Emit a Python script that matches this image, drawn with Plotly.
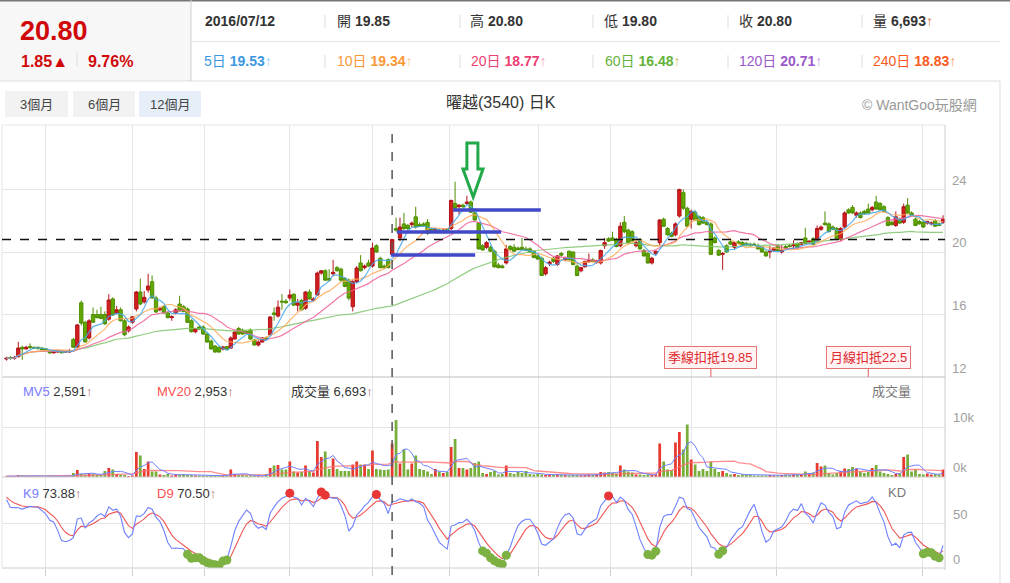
import plotly.graph_objects as go
import pandas as pd

W, H = 1010, 583
def px(x): return x / W
def py(y): return 1 - y / H

# ---------------- data ----------------
opens = [
13.15,13.25,13.20,13.30,13.90,13.80,13.95,13.90,13.90,13.85,
13.80,13.60,13.55,13.60,13.65,13.60,13.60,14.40,13.92,16.75,
15.50,14.50,16.00,16.00,16.00,16.00,15.70,17.00,16.10,16.30,
15.60,14.95,15.50,16.35,17.44,16.80,17.57,18.10,17.06,16.30,
16.50,16.10,15.80,16.10,16.67,16.50,16.35,15.60,14.90,15.20,
15.20,14.75,14.30,13.98,13.90,13.80,13.95,13.85,14.43,15.10,
15.00,14.90,15.00,14.37,14.05,14.24,14.50,14.70,16.10,15.90,
16.85,16.85,17.06,17.30,16.60,16.90,16.40,17.44,16.90,17.25,
18.65,18.80,18.30,18.60,19.00,18.90,18.30,18.20,16.50,18.10,
19.30,19.00,19.30,19.10,20.40,19.60,19.10,19.50,19.85,21.50,
20.90,21.80,21.70,21.75,22.25,21.75,21.80,21.90,21.45,21.40,
21.40,21.30,21.45,21.50,23.10,22.90,23.00,23.10,23.20,22.50,
21.85,20.40,20.30,20.30,20.05,19.17,19.10,19.30,20.35,20.30,
20.25,20.30,20.20,20.20,20.05,19.75,19.60,18.60,19.25,19.60,
19.20,19.90,19.50,20.05,20.00,19.10,18.80,19.05,19.40,19.50,
19.35,19.30,20.40,20.85,20.90,20.80,20.40,21.90,21.40,21.30,
20.40,20.80,20.10,19.90,19.30,19.90,20.60,22.10,21.50,21.20,
21.10,22.30,23.80,22.80,22.10,22.55,22.25,22.20,21.90,21.80,
20.90,20.10,19.85,20.40,20.65,20.30,20.65,20.60,20.55,20.50,
20.50,20.40,20.30,20.00,20.00,20.10,20.40,20.00,20.35,20.40,
20.40,20.55,20.50,20.90,20.60,20.85,20.75,21.45,21.85,21.80,
21.60,21.50,20.80,21.60,22.70,22.85,22.35,22.50,22.60,22.75,
22.70,23.20,23.10,22.90,22.20,21.90,21.70,22.10,21.90,23.00,
22.50,22.10,21.95,21.90,21.85,21.80,22.00,21.80,21.90]
highs = [
13.30,13.35,13.35,14.25,14.00,14.00,14.15,13.95,13.95,13.90,
13.85,13.65,13.65,13.70,13.70,13.65,13.80,14.50,15.40,16.90,
15.60,15.70,16.45,16.30,16.50,16.20,17.30,17.10,16.55,16.45,
15.70,15.30,15.90,17.50,18.30,17.50,18.60,18.50,17.20,16.50,
16.60,16.20,15.95,16.40,17.20,16.60,16.45,15.70,15.15,15.30,
15.30,14.85,14.40,14.05,13.95,14.00,14.00,14.60,14.95,15.20,
15.10,15.00,15.10,14.45,14.35,14.55,14.60,15.90,16.45,16.90,
17.30,17.00,17.60,17.35,17.00,17.00,17.50,17.60,17.10,18.75,
18.85,18.90,18.90,19.50,19.10,19.00,18.40,18.30,18.20,19.10,
19.80,19.20,19.50,20.60,20.50,19.70,19.20,19.60,20.80,22.20,
22.20,22.50,21.80,21.95,22.90,21.90,21.90,22.10,21.55,21.55,
21.50,21.50,21.50,23.35,24.50,23.05,23.10,23.60,23.30,22.60,
21.90,20.50,20.70,20.40,20.15,19.30,19.20,20.45,20.45,20.50,
20.35,20.90,20.35,20.30,20.10,19.80,19.70,19.10,19.45,19.70,
19.80,20.00,19.70,20.10,20.05,19.20,19.05,19.45,19.90,19.60,
19.50,20.15,20.90,20.95,21.30,20.90,21.90,22.30,21.50,21.40,
20.70,20.90,20.20,20.00,19.70,20.10,22.10,22.20,21.60,21.30,
21.90,24.05,24.00,22.90,22.70,22.65,22.35,22.30,22.00,21.90,
21.00,20.20,20.00,20.50,20.75,20.70,20.75,20.70,20.65,20.60,
20.60,20.55,20.40,20.10,20.40,20.30,20.50,20.45,20.45,20.50,
20.75,20.60,20.65,21.55,20.75,20.95,21.70,21.70,22.60,21.90,
21.70,21.60,21.60,22.60,22.80,23.00,22.60,22.60,22.70,23.10,
22.95,23.60,23.20,23.00,22.30,22.00,22.60,22.20,23.10,23.45,
22.60,22.20,22.05,22.00,22.00,21.95,22.10,21.90,22.35]
lows = [
13.05,13.10,13.10,13.25,13.10,13.75,13.80,13.80,13.75,13.70,
13.65,13.50,13.50,13.55,13.50,13.55,13.55,13.90,13.85,15.30,
14.20,14.40,15.50,15.75,15.70,15.35,15.60,15.90,16.00,15.55,
14.60,14.85,15.40,16.20,16.60,16.70,17.40,17.00,16.10,16.20,
16.05,15.75,15.60,16.00,16.20,16.15,15.45,14.85,14.80,15.00,
14.70,14.20,13.75,13.55,13.55,13.70,13.70,13.80,14.40,14.70,
14.70,14.75,14.40,14.00,13.95,14.20,14.35,14.65,15.60,15.80,
16.30,16.70,16.90,16.55,16.20,16.25,16.30,16.95,16.80,17.20,
18.55,18.15,18.10,18.45,18.75,18.10,17.75,16.90,16.20,18.00,
18.75,18.90,19.05,19.00,19.95,18.95,18.90,18.95,19.80,21.30,
20.70,21.40,21.40,21.60,21.50,21.60,21.60,21.10,21.30,21.30,
21.25,21.20,21.30,21.40,22.70,22.40,22.80,23.00,22.50,22.00,
20.15,20.10,20.20,20.00,19.00,18.95,18.95,19.20,20.10,20.00,
20.10,20.10,20.05,19.95,19.60,19.50,18.45,18.50,19.10,19.30,
19.10,19.70,19.40,19.45,19.15,18.45,18.70,19.00,19.30,19.35,
19.25,19.20,20.20,20.65,20.70,20.30,20.30,21.20,20.55,20.65,
20.30,20.15,19.70,19.25,19.20,19.80,20.40,21.60,21.05,20.95,
21.00,22.20,22.70,21.60,21.50,22.00,21.70,21.80,21.70,19.80,
20.55,19.75,18.85,19.95,20.45,20.20,20.50,20.35,20.40,20.35,
20.40,20.15,19.95,19.70,19.60,20.00,20.05,19.90,20.20,20.30,
20.20,20.20,20.40,20.50,20.50,20.45,20.60,21.35,21.70,21.25,
21.40,20.75,20.70,21.50,22.45,22.45,22.20,22.15,22.40,22.45,
22.60,22.70,22.65,22.55,21.65,21.70,21.60,21.80,21.80,22.45,
22.30,21.65,21.75,21.55,21.75,21.70,21.60,21.65,21.80]
closes = [
13.20,13.20,13.25,13.85,13.80,13.90,13.90,13.85,13.85,13.75,
13.70,13.55,13.60,13.65,13.55,13.62,13.65,13.90,15.33,15.45,
14.25,15.60,15.50,15.80,15.75,15.40,16.93,15.97,16.30,15.60,
14.70,15.20,15.85,17.44,16.67,17.10,17.82,17.06,16.16,16.40,
16.10,15.80,15.85,16.30,16.22,16.20,15.50,14.90,15.10,15.07,
14.75,14.24,13.80,13.60,13.60,13.92,13.75,14.50,14.88,14.75,
14.75,14.80,14.43,14.05,14.24,14.50,14.40,15.84,16.00,16.47,
16.80,16.75,17.25,16.60,16.74,16.30,17.44,17.00,17.00,18.65,
18.80,18.20,18.20,18.70,18.80,18.20,17.80,17.05,18.10,18.97,
18.80,19.10,19.10,20.25,20.00,19.00,19.00,19.00,20.80,21.40,
21.60,21.50,21.50,21.85,21.60,21.65,21.70,21.20,21.40,21.45,
21.30,21.40,21.35,23.30,22.80,23.00,22.90,23.20,22.55,22.05,
20.20,20.13,20.60,20.05,19.05,19.00,19.00,20.20,20.15,20.05,
20.15,20.15,20.10,20.00,19.65,19.55,18.50,19.00,19.35,19.40,
19.75,19.80,19.60,19.50,19.20,18.50,19.00,19.40,19.45,19.40,
19.45,20.10,20.60,20.70,20.75,20.35,21.65,21.30,20.60,20.70,
20.60,20.20,19.75,19.30,19.60,20.05,22.05,21.65,21.10,21.00,
21.80,24.00,22.80,21.65,22.60,22.05,21.75,21.85,21.75,19.85,
20.60,19.80,19.90,20.00,20.50,20.60,20.55,20.40,20.45,20.40,
20.45,20.20,20.00,19.75,20.05,20.25,20.10,20.10,20.25,20.35,
20.45,20.30,20.60,20.55,20.70,20.50,21.50,21.60,21.75,21.30,
21.45,20.80,21.50,22.50,22.50,22.50,22.50,22.20,22.45,22.50,
22.85,22.75,22.70,22.60,21.70,21.75,22.25,21.85,22.90,22.50,
22.35,21.70,21.80,21.60,21.95,21.85,21.65,21.70,22.10]
volumes = [
150,200,150,400,300,200,250,150,200,150,
150,200,150,150,150,150,200,800,1400,600,
500,700,600,500,400,1200,1800,1500,600,500,
400,200,300,5000,4300,1600,3100,1100,1100,500,
400,600,300,400,500,600,400,400,300,300,
300,250,300,350,250,250,300,1500,600,400,
400,350,300,250,200,150,600,1800,2300,2400,
1500,1500,3100,1100,900,1000,2300,1100,900,7200,
4000,5100,1600,3700,1600,1200,1200,1200,2500,3100,
2500,2500,1600,5300,1600,1500,1400,1500,6693,11400,
2700,5500,1500,2700,4300,1600,1400,1100,600,1600,
1100,800,1000,6000,7600,1800,1800,1500,1800,2800,
3100,800,600,1000,1200,500,600,2300,800,600,
1000,800,1200,600,500,600,500,400,400,400,
500,400,400,350,400,400,350,400,500,400,
600,1000,900,1000,800,700,2300,1500,1100,900,
500,500,400,500,400,500,6700,3100,1500,1400,
6900,9000,5500,10500,3500,2500,1200,1600,1200,3100,
1600,1000,1200,800,500,600,400,500,400,400,
300,300,300,300,400,300,300,400,500,400,
500,500,500,1100,700,900,2800,2100,2300,800,
500,800,1200,1700,1600,2000,1700,1100,800,1000,
1800,2400,1100,800,600,400,600,800,4000,4500,
1100,1500,600,500,700,500,600,500,1500]

grid_idx = [9.8, 32.1, 50.4, 71.8, 92.9, 112.5, 135.3, 153.6, 174.0, 195.8, 232.9]
price_ticks = [12, 16, 20, 24]
vol_ticks = [0, 10000]
vol_tick_text = ["0k", "10k"]
kd_ticks = [0, 50]
K_SEED, D_SEED = 84.0, 80.0

hover_idx = 98
hover_close = 20.80
kijun_q_idx, kijun_q_txt = 179, "季線扣抵19.85"
kijun_m_idx, kijun_m_txt = 219, "月線扣抵22.5"

# hand-drawn marks on the chart
blue_lines = [(97.7, 119.1, 19.81), (99.2, 125.7, 21.28), (113.5, 135.8, 22.69)]

# ---------------- derived series ----------------
n = len(closes)
idx = list(range(n))
cs = pd.Series(closes)
ma5 = cs.rolling(5, min_periods=1).mean()
ma10 = cs.rolling(10, min_periods=1).mean()
ma20 = cs.rolling(20, min_periods=1).mean()
ma60 = cs.rolling(60, min_periods=1).mean()
vs = pd.Series(volumes)
mv5 = vs.rolling(5, min_periods=1).mean()
mv20 = vs.rolling(20, min_periods=1).mean()

Kv, Dv = [], []
k, d = K_SEED, D_SEED
for i in range(n):
    lo = min(lows[max(0, i - 8):i + 1]); hi = max(highs[max(0, i - 8):i + 1])
    rsv = (closes[i] - lo) / (hi - lo) * 100 if hi > lo else 50
    k = 2 / 3 * k + rsv / 3
    d = 2 / 3 * d + k / 3
    Kv.append(k); Dv.append(d)

RED, GREEN, GRAY = "#e8392f", "#77ad39", "#cdd4d8"
vol_colors = [RED if c > o else (GREEN if c < o else GRAY) for o, c in zip(opens, closes)]

FONT = "Liberation Sans, Arial, Noto Sans CJK TC, sans-serif"
fig = go.Figure()

# price panel
for ma, col in [(ma60, "#7cc46a"), (ma20, "#f0609a"), (ma10, "#ffaa5a"), (ma5, "#45a6ea")]:
    fig.add_trace(go.Scatter(x=idx, y=ma, mode="lines", line=dict(color=col, width=1.2),
                             opacity=0.85, hoverinfo="skip", xaxis="x", yaxis="y"))
fig.add_trace(go.Candlestick(
    x=idx, open=opens, high=highs, low=lows, close=closes, xaxis="x", yaxis="y",
    increasing=dict(line=dict(color="#b3141a", width=1), fillcolor="#d3201f"),
    decreasing=dict(line=dict(color="#4f8f00", width=1), fillcolor="#62a800"),
    whiskerwidth=0, hoverinfo="skip"))

# volume panel
fig.add_trace(go.Bar(x=idx, y=volumes, marker=dict(color=vol_colors, line=dict(width=0)),
                     xaxis="x2", yaxis="y2", hoverinfo="skip"))
fig.add_trace(go.Scatter(x=idx, y=mv20, mode="lines", line=dict(color="#ff7070", width=1.3),
                         opacity=0.8, xaxis="x2", yaxis="y2", hoverinfo="skip"))
fig.add_trace(go.Scatter(x=idx, y=mv5, mode="lines", line=dict(color="#6f80ff", width=1),
                         xaxis="x2", yaxis="y2", hoverinfo="skip"))

# KD panel
fig.add_trace(go.Scatter(x=idx, y=Dv, mode="lines", line=dict(color="#f05555", width=1.1),
                         xaxis="x3", yaxis="y3", hoverinfo="skip"))
fig.add_trace(go.Scatter(x=idx, y=Kv, mode="lines", line=dict(color="#6f80ff", width=1.1),
                         xaxis="x3", yaxis="y3", hoverinfo="skip"))
hi_i = [i for i in idx if Kv[i] > 80]
lo_i = [i for i in idx if Kv[i] < 20]
fig.add_trace(go.Scatter(x=hi_i, y=[Kv[i] for i in hi_i], mode="markers",
                         marker=dict(color="#e83535", size=9), xaxis="x3", yaxis="y3", hoverinfo="skip"))
fig.add_trace(go.Scatter(x=lo_i, y=[Kv[i] for i in lo_i], mode="markers",
                         marker=dict(color="#7db243", size=9), xaxis="x3", yaxis="y3", hoverinfo="skip"))

XR = [-1.14, 238.5]
XD = [px(2), px(945)]
axx = dict(range=XR, domain=XD, tickvals=grid_idx, showticklabels=False, showgrid=True,
           gridcolor="#e6e6e6", zeroline=False, fixedrange=True, showline=False)
fig.update_layout(
    width=W, height=H, margin=dict(l=0, r=0, t=0, b=0),
    paper_bgcolor="white", plot_bgcolor="white", showlegend=False, bargap=0.3,
    boxgap=0.15, boxgroupgap=0,
    font=dict(family=FONT, color="#333"),
    xaxis=dict(axx, anchor="y", rangeslider=dict(visible=False)),
    xaxis2=dict(axx, anchor="y2"),
    xaxis3=dict(axx, anchor="y3", ticks="outside", ticklen=7, tickcolor="#d0d0d0"),
    yaxis=dict(domain=[py(377), py(125)], range=[12, 28.128], tickvals=price_ticks,
               showticklabels=False, gridcolor="#e6e6e6", zeroline=False, fixedrange=True),
    yaxis2=dict(domain=[py(477), py(377)], range=[0, 20000], tickvals=vol_ticks,
                showticklabels=False, gridcolor="#e6e6e6", zeroline=False, fixedrange=True),
    yaxis3=dict(domain=[py(568), py(478)], range=[0, 100], tickvals=kd_ticks,
                showticklabels=False, gridcolor="#e6e6e6", zeroline=False, fixedrange=True),
)

shapes = []
def pline(x0, y0, x1, y1, color, width=1, dash=None):
    shapes.append(dict(type="line", xref="paper", yref="paper", x0=px(x0), y0=py(y0),
                       x1=px(x1), y1=py(y1), line=dict(color=color, width=width, dash=dash)))
def prect(x0, y0, x1, y1, fill, line=None):
    shapes.append(dict(type="rect", xref="paper", yref="paper", x0=px(x0), y0=py(y0),
                       x1=px(x1), y1=py(y1), fillcolor=fill, line=dict(width=0 if line is None else 1,
                       color=line or fill), layer="below"))

# header
prect(0, 1, 191, 81, "#f7f7f7")
pline(0, 0.5, 1010, 0.5, "#777", 2)
pline(0, 81, 1000, 81, "#dddddd")
pline(191, 0, 191, 81, "#cfcfcf")
pline(191, 41.5, 1000, 41.5, "#e6e6e6")
pline(1000, 81, 1000, 583, "#dddddd")
for sx in [325, 460, 593, 728, 862]:
    pline(sx, 15, sx, 28, "#dddddd")
    pline(sx, 55, sx, 68, "#dddddd")
pline(77, 52, 77, 66, "#dddddd")
# buttons
prect(5, 91, 68, 117, "#f2f2f2")
prect(73, 91, 135, 117, "#f2f2f2")
prect(139, 91, 201, 117, "#e6eef8")
# panel borders
pline(2, 125, 945, 125, "#e6e6e6")
pline(2, 377, 945, 377, "#bdbdbd")
pline(2, 477, 945, 477, "#cccccc")
pline(2, 568, 945, 568, "#cccccc")
pline(945, 125, 945, 570, "#cccccc")
pline(2, 125, 2, 568, "#e6e6e6")

# crosshair
shapes.append(dict(type="line", xref="x", yref="paper", x0=hover_idx, x1=hover_idx,
                   y0=py(575), y1=py(125), line=dict(color="#555", width=1.5, dash="dash")))
shapes.append(dict(type="line", xref="paper", yref="y", x0=px(2), x1=px(945),
                   y0=hover_close, y1=hover_close, line=dict(color="#111", width=1.3, dash="dash")))
# hand-drawn lines and arrow
for x0, x1, yv in blue_lines:
    shapes.append(dict(type="line", xref="x", yref="y", x0=x0, x1=x1, y0=yv, y1=yv,
                       line=dict(color="#4149c9", width=3.5)))
arrow_x = [117.0, 119.8, 119.8, 121.1, 118.6, 116.0, 117.0]
arrow_y = [26.98, 26.98, 25.31, 25.31, 23.52, 25.31, 25.31]
path = "M " + " L ".join(f"{a},{b}" for a, b in zip(arrow_x, arrow_y)) + " Z"
shapes.append(dict(type="path", xref="x", yref="y", path=path,
                   line=dict(color="#22aa4a", width=3), fillcolor="rgba(0,0,0,0)"))
# deduction ticks
for xi in [kijun_q_idx, kijun_m_idx]:
    shapes.append(dict(type="line", xref="x", yref="paper", x0=xi, x1=xi, y0=py(377), y1=py(368),
                       line=dict(color="#e05a5a", width=1)))
fig.update_layout(shapes=shapes)

ann = []
def txt(x, y, s, size=13, color="#333", xanchor="left", bold=False, yanchor="middle"):
    if bold:
        s = f"<b>{s}</b>"
    ann.append(dict(xref="paper", yref="paper", x=px(x), y=py(y), text=s, showarrow=False,
                    xanchor=xanchor, yanchor=yanchor, font=dict(size=size, color=color, family=FONT)))

txt(18, 31, "20.80", 27, "#d0080a", bold=True)
txt(19, 61, "1.85▲", 16, "#d0080a", bold=True)
txt(86, 61, "9.76%", 16, "#d0080a", bold=True)
txt(203, 21, "2016/07/12", 14, "#333", bold=True)
row1 = [(335, "開", "19.85"), (468, "高", "20.80"), (602, "低", "19.80"), (737, "收", "20.80")]
for x, a, b in row1:
    txt(x, 21, f"{a} <b>{b}</b>", 14, "#333")
txt(871, 21, "量 <b>6,693</b><span style='color:#e0703a'>↑</span>", 14, "#333")
row2 = [(202, "5日", "19.53", "#3a98e0", "#9ccdf2"), (335, "10日", "19.34", "#fa9838", "#fbc38d"),
        (469, "20日", "18.77", "#ec3f73", "#f59ab5"), (603, "60日", "16.48", "#64b23c", "#d2ba6a"),
        (737, "120日", "20.71", "#9b59c9", "#c9a4e3"), (871, "240日", "18.83", "#fa5a1e", "#fb9a73")]
for x, a, b, c, c2 in row2:
    txt(x, 61, f"{a} <b>{b}</b><span style='color:{c2}'>↑</span>", 14, c)
txt(36.5, 104, "3個月", 13, "#444", xanchor="center")
txt(104, 104, "6個月", 13, "#444", xanchor="center")
txt(170, 104, "12個月", 13, "#444", xanchor="center")
txt(501, 103, "曜越(3540) 日K", 16, "#333", xanchor="center")
txt(860, 105, "© WantGoo玩股網", 14, "#999")

# axis labels (drawn above their grid lines)
for v in price_ticks:
    ann.append(dict(xref="paper", yref="y", x=px(950), y=v, yshift=9, text=str(v), showarrow=False,
                    xanchor="left", font=dict(size=13, color="#a0a0a0", family=FONT)))
for v, t in zip(vol_ticks, vol_tick_text):
    ann.append(dict(xref="paper", yref="y2", x=px(951), y=v, yshift=9, text=t, showarrow=False,
                    xanchor="left", font=dict(size=13, color="#a0a0a0", family=FONT)))
for v in kd_ticks:
    ann.append(dict(xref="paper", yref="y3", x=px(951), y=v, yshift=9, text=str(v), showarrow=False,
                    xanchor="left", font=dict(size=13, color="#a0a0a0", family=FONT)))

# panel legends
txt(21, 391, "<span style='color:#7b7bff'>MV5</span> 2,591<span style='color:#b07070'>↑</span>", 13, "#333")
txt(155, 391, "<span style='color:#ff5050'>MV20</span> 2,953<span style='color:#b07070'>↑</span>", 13, "#333")
txt(289, 391, "成交量 6,693<span style='color:#b07070'>↑</span>", 13, "#333")
txt(870, 391, "成交量", 13, "#777")
txt(21, 493, "<span style='color:#7b7bff'>K9</span> 73.88<span style='color:#b07070'>↑</span>", 13, "#333")
txt(155, 493, "<span style='color:#ff5050'>D9</span> 70.50<span style='color:#b07070'>↑</span>", 13, "#333")
txt(886, 492, "KD", 13, "#777")

# deduction labels
for xi, s in [(kijun_q_idx, kijun_q_txt), (kijun_m_idx, kijun_m_txt)]:
    ann.append(dict(xref="x", yref="paper", x=xi, y=py(357.5), text=s, showarrow=False,
                    xanchor="center", yanchor="middle", bgcolor="#fff3f3", bordercolor="#e57373",
                    borderwidth=1, borderpad=3, font=dict(size=13, color="#e0282e", family=FONT)))
fig.update_layout(annotations=ann)

fig.write_html("out.html", config=dict(displayModeBar=False, staticPlot=True),
               post_script="document.body.style.margin='0px';document.body.style.overflow='hidden';")
